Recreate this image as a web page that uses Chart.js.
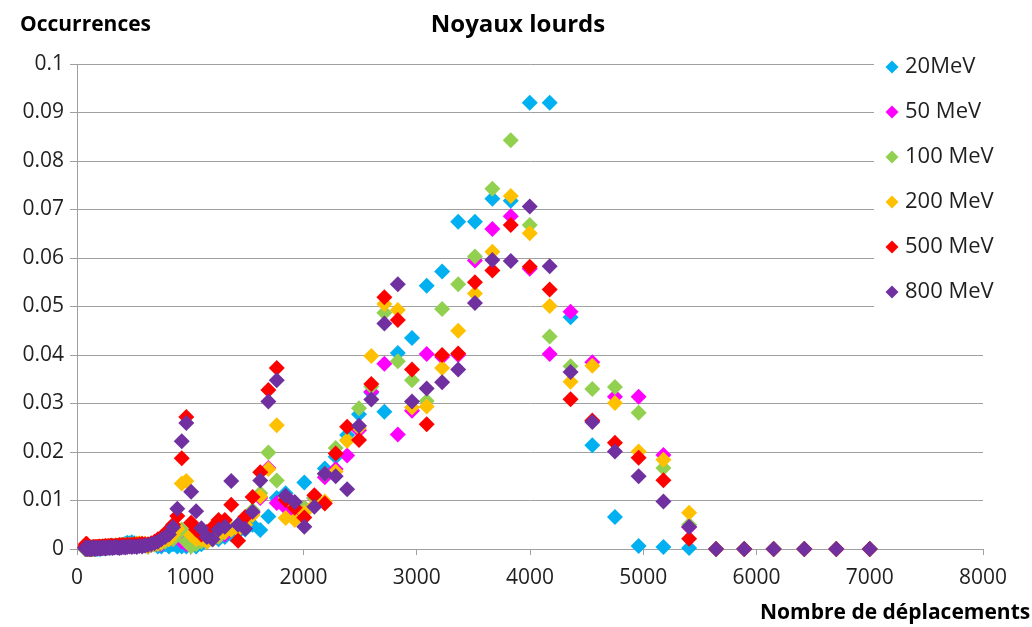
<!DOCTYPE html>
<html>
<head>
<meta charset="utf-8">
<title>Noyaux lourds</title>
<script src="https://cdn.jsdelivr.net/npm/chart.js@4.4.0/dist/chart.umd.min.js"></script>
<style>
  html, body { margin: 0; padding: 0; background: #fff; }
  #wrap { width: 1032px; height: 627px; position: relative; }
</style>
</head>
<body>
<div id="wrap"><canvas id="chart"></canvas></div>
<script>
// bins du nombre de déplacements (axe x)
const binsX = [
  72, 75, 79, 82, 86, 90, 94, 98, 102, 107,
  112, 117, 122, 127, 133, 139, 145, 151, 158, 165,
  172, 180, 187, 196, 204, 213, 223, 233, 243, 253,
  265, 276, 289, 301, 315, 329, 343, 358, 374, 390,
  408, 426, 444, 464, 484, 506, 528, 551, 575, 601,
  627, 655, 684, 714, 745, 778, 812, 848, 886, 925,
  965, 1008, 1052, 1098, 1147, 1197, 1250, 1305, 1362, 1422,
  1485, 1550, 1618, 1690, 1764, 1842, 1923, 2007, 2096, 2188,
  2284, 2385, 2490, 2599, 2714, 2833, 2958, 3088, 3224, 3366,
  3514, 3668, 3830, 3998, 4174, 4358, 4550, 4750, 4959, 5178,
  5405, 5643, 5892, 6151, 6422, 6705, 7000
];

const occ20 = [
  0, 0, 0, 0.0002, 0, 0, 0.0003, 0, 0, 0.0002,
  0, 0.0003, 0, 0, 0.0002, 0, 0.0003, 0, 0.0002, 0,
  0.0003, 0, 0.0002, 0.0003, 0, 0.0002, 0.0003, 0.0002, 0.0004, 0.0003,
  0.0004, 0.0003, 0.0005, 0.0004, 0.0005, 0.0006, 0.0005, 0.0006, 0.0007, 0.0008,
  0.0009, 0.0011, 0.0013, 0.0012, 0.0014, 0.0012, 0.0011, 0.0009, 0.0008, 0.0007,
  0.0005, 0.001, 0.001, 0.0005, 0.0005, 0.001, 0.0005, 0.001, 0.0005, 0.0005,
  0.0005, 0.001, 0.0005, 0.001, 0.0015, 0.002, 0.002, 0.0025, 0.003, 0.0035,
  0.004, 0.005, 0.0039, 0.0067, 0.0105, 0.0115, 0.0095, 0.0137, 0.0105, 0.0166,
  0.019, 0.0235, 0.0278, 0.0322, 0.0283, 0.0404, 0.0435, 0.0543, 0.0572, 0.0675,
  0.0675, 0.0722, 0.0718, 0.092, 0.092, 0.0478, 0.0214, 0.0066, 0.0006, 0.0004,
  0.0002, 0, 0, 0, 0, 0, 0
];

const occ50 = [
  0.0003, 0, 0.0002, 0, 0.0003, 0.0002, 0, 0.0003, 0.0002, 0,
  0.0003, 0.0002, 0.0003, 0, 0.0002, 0.0003, 0.0002, 0.0003, 0.0004, 0.0003,
  0.0002, 0.0004, 0.0003, 0.0004, 0.0003, 0.0004, 0.0005, 0.0004, 0.0003, 0.0005,
  0.0004, 0.0005, 0.0004, 0.0006, 0.0005, 0.0004, 0.0006, 0.0005, 0.0006, 0.0007,
  0.0006, 0.0007, 0.0006, 0.0008, 0.0007, 0.0008, 0.0007, 0.0008, 0.0009, 0.0008,
  0.0005, 0.0008, 0.001, 0.001, 0.001, 0.0015, 0.002, 0.002, 0.0025, 0.0015,
  0.001, 0.001, 0.0015, 0.002, 0.002, 0.002, 0.0025, 0.003, 0.004, 0.0045,
  0.006, 0.0075, 0.0105, 0.0167, 0.0095, 0.0085, 0.0075, 0.0085, 0.0105, 0.0148,
  0.0165, 0.0193, 0.0245, 0.0324, 0.0382, 0.0236, 0.0285, 0.0402, 0.0396, 0.04,
  0.0595, 0.066, 0.0686, 0.0578, 0.0402, 0.0489, 0.0385, 0.0314, 0.0314, 0.0194,
  0.0045, 0, 0, 0, 0, 0, 0
];

const occ100 = [
  0, 0.0002, 0, 0.0003, 0, 0.0002, 0, 0.0003, 0.0002, 0,
  0.0002, 0, 0.0003, 0.0002, 0, 0.0003, 0.0002, 0.0003, 0, 0.0002,
  0.0003, 0.0002, 0.0004, 0.0003, 0.0002, 0.0004, 0.0003, 0.0004, 0.0005, 0.0004,
  0.0005, 0.0004, 0.0005, 0.0006, 0.0005, 0.0006, 0.0005, 0.0007, 0.0006, 0.0007,
  0.0008, 0.0007, 0.0008, 0.0009, 0.0008, 0.0009, 0.001, 0.0009, 0.001, 0.0009,
  0.0005, 0.0008, 0.001, 0.001, 0.0012, 0.0015, 0.002, 0.002, 0.003, 0.004,
  0.0015, 0.0005, 0.001, 0.0015, 0.002, 0.002, 0.0025, 0.0035, 0.004, 0.005,
  0.006, 0.008, 0.0115, 0.0199, 0.0141, 0.0105, 0.009, 0.0085, 0.0105, 0.0155,
  0.0208, 0.0225, 0.029, 0.0335, 0.0487, 0.0387, 0.0348, 0.0305, 0.0495, 0.0546,
  0.0603, 0.0743, 0.0843, 0.0668, 0.0438, 0.0377, 0.033, 0.0334, 0.0281, 0.0167,
  0.005, 0, 0, 0, 0, 0, 0
];

const occ200 = [
  0.0002, 0, 0.0003, 0, 0.0002, 0, 0.0003, 0.0002, 0, 0.0003,
  0.0002, 0.0003, 0, 0.0002, 0.0003, 0.0002, 0, 0.0003, 0.0002, 0.0003,
  0.0004, 0.0003, 0.0002, 0.0004, 0.0003, 0.0004, 0.0003, 0.0005, 0.0004, 0.0003,
  0.0005, 0.0004, 0.0006, 0.0005, 0.0004, 0.0006, 0.0007, 0.0006, 0.0005, 0.0007,
  0.0006, 0.0008, 0.0007, 0.0008, 0.0009, 0.001, 0.0011, 0.0012, 0.001, 0.0011,
  0.0005, 0.001, 0.001, 0.0012, 0.0015, 0.002, 0.002, 0.003, 0.0042, 0.0135,
  0.014, 0.0029, 0.002, 0.002, 0.0015, 0.002, 0.003, 0.0035, 0.004, 0.004,
  0.005, 0.007, 0.0108, 0.0165, 0.0255, 0.0064, 0.006, 0.0075, 0.009, 0.0098,
  0.016, 0.0223, 0.025, 0.0398, 0.0505, 0.0493, 0.0292, 0.0294, 0.0373, 0.045,
  0.0527, 0.0613, 0.0728, 0.0651, 0.0501, 0.0345, 0.0378, 0.0301, 0.0201, 0.0184,
  0.0075, 0, 0, 0, 0, 0, 0
];

const occ500 = [
  0.0003, 0.0006, 0.001, 0.0011, 0.001, 0.0009, 0.0006, 0.0004, 0.0003, 0.0002,
  0.0003, 0, 0.0002, 0.0003, 0.0002, 0.0003, 0.0004, 0.0003, 0.0002, 0.0004,
  0.0003, 0.0004, 0.0003, 0.0005, 0.0004, 0.0003, 0.0005, 0.0004, 0.0005, 0.0006,
  0.0005, 0.0006, 0.0005, 0.0007, 0.0006, 0.0005, 0.0007, 0.0006, 0.0008, 0.0007,
  0.0008, 0.0007, 0.0009, 0.0008, 0.0009, 0.001, 0.0009, 0.001, 0.0011, 0.001,
  0.001, 0.0012, 0.0015, 0.002, 0.0025, 0.003, 0.004, 0.005, 0.0068, 0.0187,
  0.0272, 0.0054, 0.004, 0.003, 0.0035, 0.0045, 0.006, 0.006, 0.0091, 0.0017,
  0.0066, 0.0107, 0.0158, 0.0328, 0.0373, 0.0101, 0.0085, 0.0065, 0.0111, 0.0094,
  0.0197, 0.0252, 0.0225, 0.034, 0.0519, 0.0472, 0.037, 0.0257, 0.04, 0.0403,
  0.055, 0.0574, 0.0668, 0.0582, 0.0535, 0.0309, 0.0265, 0.0219, 0.0188, 0.0142,
  0.0021, 0, 0, 0, 0, 0, 0
];

const occ800 = [
  0.0002, 0.0001, 0, 0.0002, 0.0001, 0, 0.0002, 0.0001, 0.0002, 0,
  0.0001, 0.0002, 0.0001, 0, 0.0002, 0.0001, 0.0002, 0.0001, 0, 0.0002,
  0.0001, 0.0002, 0.0002, 0.0001, 0.0002, 0.0001, 0.0002, 0.0003, 0.0002, 0.0001,
  0.0002, 0.0003, 0.0002, 0.0003, 0.0002, 0.0003, 0.0004, 0.0003, 0.0002, 0.0003,
  0.0004, 0.0003, 0.0004, 0.0005, 0.0004, 0.0005, 0.0004, 0.0006, 0.0005, 0.0007,
  0.0008, 0.001, 0.0012, 0.0015, 0.002, 0.0025, 0.003, 0.0045, 0.0083, 0.0222,
  0.026, 0.0118, 0.0078, 0.0043, 0.0025, 0.002, 0.004, 0.0046, 0.014, 0.005,
  0.0042, 0.0077, 0.0141, 0.0304, 0.0348, 0.011, 0.0097, 0.0046, 0.0087, 0.0155,
  0.015, 0.0123, 0.0254, 0.0308, 0.0465, 0.0546, 0.0304, 0.0331, 0.0344, 0.037,
  0.0507, 0.0596, 0.0594, 0.0706, 0.0583, 0.0365, 0.0262, 0.0201, 0.015, 0.0098,
  0.0046, 0, 0, 0, 0, 0, 0
];

const seriesNames = ["20MeV", "50 MeV", "100 MeV", "200 MeV", "500 MeV", "800 MeV"];
const seriesValues = [occ20, occ50, occ100, occ200, occ500, occ800];
const seriesColors = ["#00b0f0", "#ff00ff", "#92d050", "#ffc000", "#ff0000", "#7030a0"];

const FONT = '"Open Sans", sans-serif';
Chart.defaults.font.family = FONT;

// titres + légende dessinés à la main (positions comme dans Excel)
const decor = {
  id: "decor",
  afterDraw(chart) {
    const ctx = chart.ctx;
    ctx.save();

    // fond blanc de la légende (cache les lignes de grille)
    ctx.fillStyle = "#fff";
    ctx.fillRect(874, 44, 158, 288);

    ctx.textBaseline = "middle";
    seriesNames.forEach((name, i) => {
      const cy = 67 + i * 45;
      const cx = 892;
      const r = 6.5;
      ctx.fillStyle = seriesColors[i];
      ctx.beginPath();
      ctx.moveTo(cx - r, cy);
      ctx.lineTo(cx, cy - r);
      ctx.lineTo(cx + r, cy);
      ctx.lineTo(cx, cy + r);
      ctx.closePath();
      ctx.fill();
      ctx.fillStyle = "#1f1f1f";
      ctx.font = "22px " + FONT;
      ctx.textAlign = "left";
      ctx.fillText(name, 905, cy);
    });

    ctx.fillStyle = "#000";
    ctx.font = "bold 24px " + FONT;
    ctx.textAlign = "center";
    ctx.fillText("Noyaux lourds", 518, 25);

    ctx.font = "bold 21px " + FONT;
    ctx.textAlign = "left";
    ctx.fillText("Occurrences", 20, 25);

    ctx.fillText("Nombre de déplacements", 760, 613);

    ctx.restore();
  }
};

new Chart(document.getElementById("chart"), {
  type: "scatter",
  data: {
    datasets: seriesNames.map((name, i) => ({
      label: name,
      data: binsX.map((x, k) => ({ x: x, y: seriesValues[i][k] })),
      pointStyle: "rectRot",
      pointRadius: 8,
      backgroundColor: seriesColors[i],
      borderColor: seriesColors[i],
      borderWidth: 0,
      clip: false,
      order: 5 - i
    }))
  },
  options: {
    responsive: true,
    maintainAspectRatio: false,
    animation: false,
    events: [],
    layout: { padding: { top: 64, right: 49, left: 0, bottom: 0 } },
    plugins: {
      legend: { display: false },
      tooltip: { enabled: false }
    },
    scales: {
      x: {
        type: "linear",
        min: 0,
        max: 8000,
        ticks: {
          stepSize: 1000,
          color: "#1f1f1f",
          font: { size: 21 },
          padding: 10,
          callback: v => String(v)
        },
        grid: { drawOnChartArea: false, drawTicks: true, tickLength: 6, color: "#a0a0a0" },
        border: { color: "#a0a0a0" },
        afterFit: s => { s.height = 78; }
      },
      y: {
        min: 0,
        max: 0.1,
        ticks: {
          stepSize: 0.01,
          color: "#1f1f1f",
          font: { size: 21 },
          padding: 6,
          callback: v => String(+v.toFixed(2))
        },
        grid: { color: "#a0a0a0", tickLength: 7 },
        border: { color: "#a0a0a0" },
        afterFit: s => { s.width = 77; }
      }
    }
  },
  plugins: [decor]
});
</script>
</body>
</html>
